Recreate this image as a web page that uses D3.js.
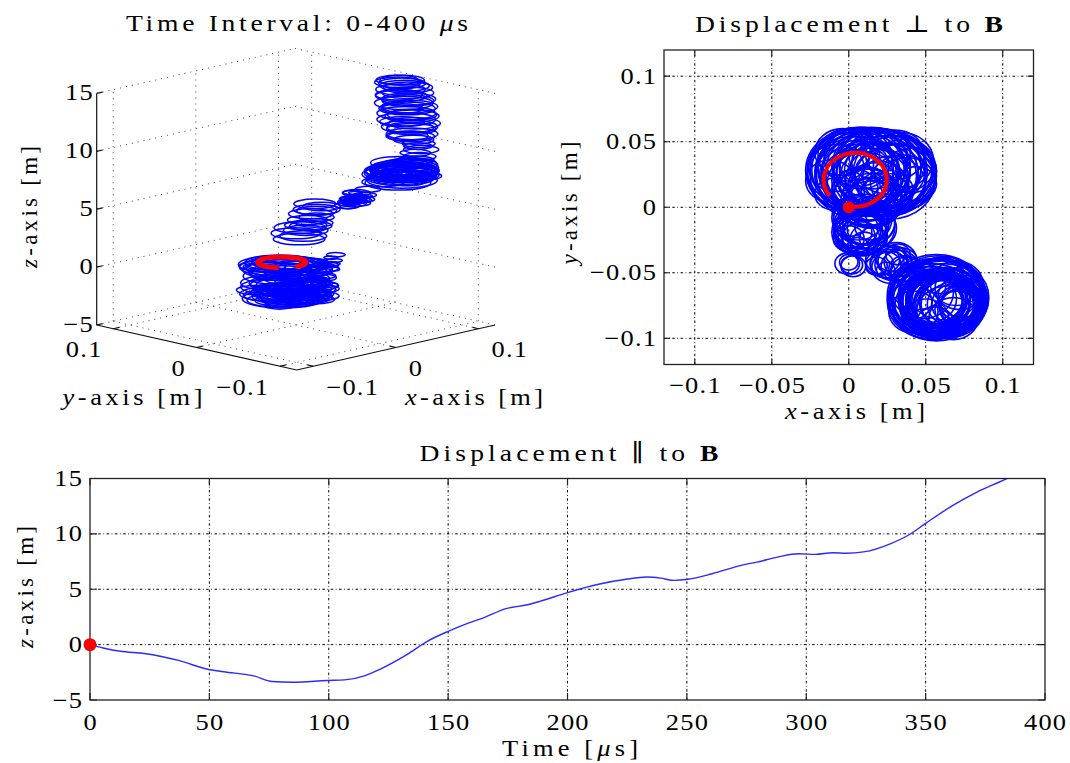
<!DOCTYPE html>
<html>
<head>
<meta charset="utf-8">
<script src="https://cdn.jsdelivr.net/npm/d3@7"></script>
<style>
  body { margin: 0; background: #fff; }
  text { font-family: "Liberation Serif", "DejaVu Serif", serif; fill: #000; }
</style>
</head>
<body>
<svg id="fig" width="1070" height="763"></svg>
<script>
// ---- data ----

// parallel displacement z(t)
const timeUs = [0, 5.5, 12.7, 22.8, 37.5, 48.8, 56, 69, 76.3, 85, 99.4, 106.6, 115.3, 121, 132.7, 141.3,
  150, 158.7, 164.5, 174.6, 183.2, 188.4, 200, 213, 224.5, 233.2, 239, 244.7, 250.5, 260.6, 273.6,
  279.4, 288, 296.7, 303.9, 311.1, 316.9, 324, 335.7, 342.9, 350, 361.6, 371.7, 384, 392, 400];
const zDisp = [0, -0.3, -0.6, -0.8, -1.45, -2.2, -2.45, -2.85, -3.33, -3.4, -3.24, -3.18, -2.8, -2.27, -0.9, 0.3,
  1.2, 1.97, 2.4, 3.27, 3.6, 3.9, 4.7, 5.45, 5.9, 6.1, 6.0, 5.8, 5.9, 6.4, 7.2,
  7.45, 7.9, 8.2, 8.15, 8.3, 8.25, 8.37, 9.15, 9.9, 10.95, 12.6, 13.8, 15.0, 15.9, 16.7];

// gyration orbits, grouped by stage: centre (x, y) [m], radius [m], height z [m]
const orbitX = [
  0.005, 0.008, 0.004, 0.012, 0.020, 0.006, 0.026, 0.002, 0.015, 0.030, 0.006, 0.018, 0.028, 0.010, 0.022, 0.003, 0.016, 0.033, 0.008, 0.024,
  0.012, 0.027, 0.001, 0.018, 0.035, 0.010, 0.024, 0.006, 0.030, 0.014, 0.020, 0.004, 0.028, 0.012, 0.022, 0.016, 0.038, 0.008, 0.026, 0.018,
  -0.008, 0.000, 0.020, 0.036, 0.044, 0.014, -0.012, 0.030, 0.004, 0.024, 0.040, -0.004, 0.016, 0.028, 0.010, 0.034, -0.010, 0.020, 0.006, 0.026,
  0.006, 0.008, 0.005, 0.010, 0.007, 0.004, 0.011, 0.008, 0.006, 0.009, 0.012, 0.003, -0.001, 0.002, 0.000, 0.003,
  0.002, 0.014, 0.010, 0.000, 0.016, 0.006,
  0.012, 0.015, 0.010, 0.016, 0.012, 0.014,
  0.008, 0.010, 0.006, 0.011, 0.009, 0.013, 0.010, 0.015, 0.012,
  0.022, 0.026, 0.030, 0.024, 0.033, 0.028, 0.020, 0.034, 0.027, 0.031, 0.025, 0.036, 0.029, 0.038,
  0.018, 0.040, 0.032, 0.024,
  0.055, 0.058, 0.060, 0.054, 0.062, 0.057, 0.059, 0.056, 0.061, 0.055, 0.058, 0.063, 0.057, 0.060, 0.054, 0.062, 0.058, 0.065, 0.067,
  0.045, 0.072, 0.050, 0.068, 0.040, 0.075, 0.060, 0.048, 0.070, 0.056, 0.064, 0.042, 0.052, 0.074, 0.062,
  0.070, 0.073, 0.071, 0.074, 0.072, 0.070, 0.068,
  0.066, 0.064, 0.067, 0.063, 0.066, 0.062, 0.065, 0.060, 0.064, 0.061, 0.058, 0.062, 0.057, 0.060, 0.055, 0.058, 0.054, 0.056,
  0.060, 0.066, 0.058, 0.064, 0.056, 0.062, 0.054, 0.060, 0.057, 0.052];
const orbitY = [
  0.024, 0.027, 0.028, 0.026, 0.024, 0.030, 0.026, 0.025, 0.029, 0.022, 0.023, 0.027, 0.028, 0.031, 0.021, 0.027, 0.024, 0.024, 0.029, 0.029,
  0.022, 0.020, 0.029, 0.031, 0.019, 0.025, 0.025, 0.028, 0.027, 0.020, 0.030, 0.022, 0.017, 0.028, 0.026, 0.018, 0.020, 0.032, 0.012, 0.024,
  0.030, 0.040, 0.040, 0.032, 0.018, 0.008, 0.020, 0.040, 0.014, 0.010, 0.028, 0.042, 0.036, 0.006, 0.018, 0.036, 0.010, 0.016, 0.038, 0.034,
  -0.018, -0.020, -0.016, -0.021, -0.019, -0.022, -0.018, -0.023, -0.017, -0.020, -0.024, -0.019, -0.043, -0.044, -0.042, -0.045,
  -0.012, -0.015, -0.028, -0.024, -0.024, -0.030,
  0.008, 0.006, 0.010, 0.004, 0.007, 0.002,
  -0.010, -0.012, -0.008, -0.014, -0.009, -0.012, -0.015, -0.016, -0.011,
  -0.040, -0.042, -0.041, -0.044, -0.045, -0.039, -0.043, -0.042, -0.046, -0.040, -0.043, -0.047, -0.044, -0.049,
  -0.045, -0.044, -0.036, -0.048,
  -0.068, -0.070, -0.066, -0.072, -0.071, -0.068, -0.074, -0.069, -0.070, -0.074, -0.067, -0.073, -0.071, -0.068, -0.070, -0.069, -0.075, -0.072, -0.074,
  -0.060, -0.062, -0.085, -0.085, -0.072, -0.074, -0.052, -0.065, -0.058, -0.088, -0.080, -0.080, -0.075, -0.068, -0.062,
  -0.074, -0.076, -0.073, -0.077, -0.075, -0.078, -0.074,
  -0.073, -0.076, -0.072, -0.074, -0.077, -0.071, -0.075, -0.073, -0.070, -0.076, -0.072, -0.074, -0.070, -0.075, -0.071, -0.073, -0.069, -0.072,
  -0.074, -0.072, -0.070, -0.076, -0.072, -0.073, -0.070, -0.075, -0.071, -0.070];
const orbitR = [
  0.024, 0.030, 0.032, 0.033, 0.030, 0.031, 0.029, 0.029, 0.032, 0.026, 0.028, 0.033, 0.027, 0.030, 0.028, 0.030, 0.034, 0.024, 0.032, 0.030,
  0.027, 0.029, 0.028, 0.029, 0.021, 0.035, 0.032, 0.026, 0.027, 0.025, 0.030, 0.022, 0.022, 0.020, 0.018, 0.016, 0.018, 0.018, 0.016, 0.026,
  0.018, 0.020, 0.020, 0.020, 0.013, 0.014, 0.016, 0.019, 0.015, 0.016, 0.017, 0.018, 0.022, 0.012, 0.024, 0.021, 0.012, 0.019, 0.022, 0.024,
  0.016, 0.017, 0.014, 0.015, 0.018, 0.013, 0.014, 0.012, 0.015, 0.016, 0.011, 0.012, 0.008, 0.007, 0.006, 0.008,
  0.010, 0.010, 0.009, 0.010, 0.009, 0.007,
  0.022, 0.020, 0.021, 0.019, 0.022, 0.018,
  0.018, 0.016, 0.017, 0.015, 0.019, 0.017, 0.020, 0.016, 0.018,
  0.011, 0.012, 0.011, 0.010, 0.012, 0.010, 0.009, 0.011, 0.012, 0.013, 0.011, 0.010, 0.012, 0.011,
  0.007, 0.006, 0.008, 0.006,
  0.028, 0.030, 0.027, 0.029, 0.028, 0.032, 0.026, 0.030, 0.029, 0.027, 0.030, 0.026, 0.031, 0.028, 0.025, 0.029, 0.025, 0.024, 0.020,
  0.018, 0.016, 0.015, 0.016, 0.014, 0.015, 0.014, 0.020, 0.017, 0.012, 0.020, 0.016, 0.022, 0.016, 0.024,
  0.016, 0.014, 0.013, 0.015, 0.012, 0.014, 0.017,
  0.020, 0.022, 0.021, 0.024, 0.022, 0.025, 0.023, 0.025, 0.024, 0.024, 0.025, 0.023, 0.022, 0.022, 0.021, 0.021, 0.020, 0.019,
  0.018, 0.020, 0.019, 0.021, 0.018, 0.022, 0.020, 0.021, 0.020, 0.018];
const orbitZ = [
  -0.1, -0.2, -0.3, -0.4, -0.5, -0.6, -0.65, -0.7, -0.8, -0.9, -1.0, -1.15, -1.3, -1.45, -1.65, -1.85, -2.05, -2.2, -2.3, -2.4,
  -2.5, -2.65, -2.8, -3.0, -3.2, -3.3, -3.35, -3.4, -3.4, -3.4, -3.35, -3.3, -3.25, -3.2, -3.2, -3.15, -3.1, -3.0, -2.9, -2.8,
  -0.35, -0.55, -0.75, -0.95, -1.2, -1.4, -1.6, -1.8, -2.0, -2.25, -2.45, -2.6, -2.75, -2.95, -3.1, -3.25, -3.35, -3.3, -3.15, -3.05,
  -2.6, -2.3, -2.0, -1.7, -1.4, -1.1, -0.8, -0.5, -0.2, 0.1, 0.4, 0.7, 1.0, 1.25, 1.5, 1.75,
  -2.45, -1.85, -1.25, -0.65, -0.05, 0.55,
  2.1, 2.35, 2.6, 2.85, 3.1, 3.35,
  3.6, 3.85, 4.1, 4.35, 4.6, 4.85, 5.05, 5.25, 5.45,
  5.6, 5.75, 5.9, 6.0, 6.05, 6.1, 6.0, 5.9, 5.85, 5.95, 6.15, 6.4, 6.65, 6.9,
  5.65, 6.2, 6.5, 6.8,
  7.5, 7.7, 7.85, 8.0, 8.1, 8.2, 8.25, 8.3, 8.35, 8.4, 8.45, 8.5, 8.55, 8.6, 8.65, 8.7, 8.8, 8.95, 9.1,
  7.6, 7.8, 7.95, 8.15, 8.25, 8.35, 8.45, 8.5, 8.55, 8.6, 8.65, 8.7, 8.75, 8.85, 9.0,
  9.3, 9.6, 9.9, 10.2, 10.5, 10.8, 11.1,
  11.4, 11.7, 12.0, 12.3, 12.6, 12.9, 13.2, 13.5, 13.8, 14.1, 14.4, 14.7, 15.0, 15.3, 15.6, 15.9, 16.2, 16.4,
  11.55, 12.15, 12.75, 13.35, 13.95, 14.55, 15.15, 15.75, 16.1, 16.45];

// first gyration (red): centre, radius, start/end angle [deg]
const firstOrbitCentre = [0.0042, 0.021];
const firstOrbitRadius = 0.0205;
const firstOrbitAngles = [-101, 217];

// ticks
const xyTicks = [-0.1, -0.05, 0, 0.05, 0.1];
const xyTickLabels = ["\u22120.1", "\u22120.05", "0", "0.05", "0.1"];
const xyTicks3D = [-0.1, 0, 0.1];
const xyTickLabels3D = ["\u22120.1", "0", "0.1"];
const zTicks = [-5, 0, 5, 10, 15];
const zTickLabels = ["\u22125", "0", "5", "10", "15"];
const timeTicks = [0, 50, 100, 150, 200, 250, 300, 350, 400];

// ---- helpers ----
const fig = d3.select("#fig");
const BLUE = "#0000ff", RED = "#ff0000";
const gridDash = "2.5,2.5,0.8,2.5";
const HS = 1.15; // the figure is stretched horizontally

function addText(parent, parts, o) {
  const hs = o.rotate ? 1 : HS;
  const ls = o.spacing || 0;
  const anchor = o.anchor || "middle";
  const t = parent.append("text")
    .attr("transform", `translate(${o.x},${o.y}) ` + (o.rotate ? `rotate(${o.rotate})` : `scale(${hs},1)`))
    .attr("x", anchor === "end" ? ls : anchor === "middle" ? ls / 2 : 0)
    .attr("text-anchor", anchor)
    .style("font-size", (o.size || 22) + "px");
  if (ls) t.style("letter-spacing", ls + "px");
  if (o.length) t.attr("textLength", o.length / hs).attr("lengthAdjust", "spacing");
  (typeof parts === "string" ? [[parts]] : parts).forEach(([s, st]) => {
    const ts = t.append("tspan").text(s);
    if (st === "i") ts.style("font-style", "italic");
    if (st === "b") ts.style("font-weight", "bold");
  });
  return t;
}
function tickText(parent, s, x, y, anchor) {
  return addText(parent, s, { x: x, y: y, anchor: anchor, spacing: 1.1, size: 23 });
}

const orbits = orbitX.map((x, i) => ({ x: x, y: orbitY[i], r: orbitR[i], z: orbitZ[i] }));
const rad = d => d * Math.PI / 180;

// =========================================================
// 1) 3-D view
// =========================================================
const g3 = fig.append("g");
const front = [296.7, 370];          // screen point of (xmin, ymin, zmin)
const EX = [198.3, -45];             // screen vector spanning the x range
const EY = [-200, -45];              // screen vector spanning the y range
const s3x = d3.scaleLinear().domain([-0.12, 0.12]).range([0, 1]);
const s3y = d3.scaleLinear().domain([-0.12, 0.12]).range([0, 1]);
const s3z = d3.scaleLinear().domain([-5, 15]).range([0, 231.6]);
function proj(x, y, z) {
  const u = s3x(x), v = s3y(y);
  return [front[0] + u * EX[0] + v * EY[0], front[1] + u * EX[1] + v * EY[1] - s3z(z)];
}
// matrix mapping a unit circle onto a horizontal circle of radius r at (x,y,z)
function orbitMatrix(x, y, z, r) {
  const k = s3x(r) - s3x(0);
  const c = proj(x, y, z);
  return `matrix(${EX[0] * k},${EX[1] * k},${EY[0] * k},${EY[1] * k},${c[0]},${c[1]})`;
}
const seg = (a, b) => `M${a[0]},${a[1]}L${b[0]},${b[1]}`;

const grid3 = [];
xyTicks3D.forEach(t => {
  grid3.push(seg(proj(t, -0.12, -5), proj(t, 0.12, -5)));   // floor
  grid3.push(seg(proj(-0.12, t, -5), proj(0.12, t, -5)));
  grid3.push(seg(proj(t, 0.12, -5), proj(t, 0.12, 15)));    // back walls
  grid3.push(seg(proj(0.12, t, -5), proj(0.12, t, 15)));
});
zTicks.forEach(z => {
  grid3.push(seg(proj(-0.12, 0.12, z), proj(0.12, 0.12, z)));
  grid3.push(seg(proj(0.12, 0.12, z), proj(0.12, -0.12, z)));
});
g3.append("path").attr("d", grid3.join(""))
  .attr("fill", "none").attr("stroke", "#444").attr("stroke-width", 1)
  .attr("stroke-dasharray", "1,5");

g3.append("path")
  .attr("d", seg(proj(-0.12, 0.12, -5), proj(-0.12, 0.12, 15)) +
             seg(proj(-0.12, -0.12, -5), proj(-0.12, 0.12, -5)) +
             seg(proj(-0.12, -0.12, -5), proj(0.12, -0.12, -5)))
  .attr("fill", "none").attr("stroke", "#111").attr("stroke-width", 1.2);

const ticks3 = [];
const nEX = [EX[0] / Math.hypot(...EX) * 6, EX[1] / Math.hypot(...EX) * 6];
const nEY = [EY[0] / Math.hypot(...EY) * 6, EY[1] / Math.hypot(...EY) * 6];
zTicks.forEach(z => { const p = proj(-0.12, 0.12, z); ticks3.push(seg(p, [p[0] + nEX[0], p[1] + nEX[1]])); });
xyTicks3D.forEach(t => {
  const p = proj(-0.12, t, -5); ticks3.push(seg(p, [p[0] + nEX[0], p[1] + nEX[1]]));
  const q = proj(t, -0.12, -5); ticks3.push(seg(q, [q[0] + nEY[0], q[1] + nEY[1]]));
});
g3.append("path").attr("d", ticks3.join("")).attr("stroke", "#111").attr("stroke-width", 1.2);

zTicks.forEach((z, i) => {
  const p = proj(-0.12, 0.12, z);
  tickText(g3, zTickLabels[i], p[0] - 4, p[1] + 7, "end");
});
xyTicks3D.forEach((t, i) => {
  const p = proj(-0.12, t, -5);
  tickText(g3, xyTickLabels3D[i], p[0] - 12, p[1] + 28.5, "end");
  const q = proj(t, -0.12, -5);
  tickText(g3, xyTickLabels3D[i], q[0] + 13, q[1] + 28.5, "start");
});

g3.append("g").selectAll("circle").data(orbits).join("circle")
  .attr("r", 1)
  .attr("transform", d => orbitMatrix(d.x, d.y, d.z, d.r))
  .attr("fill", "none").attr("stroke", BLUE).attr("stroke-width", 1.5)
  .attr("vector-effect", "non-scaling-stroke");

const arcPath = d3.path();
arcPath.arc(0, 0, 1, rad(firstOrbitAngles[0]), rad(firstOrbitAngles[1]));
g3.append("path").attr("d", arcPath.toString())
  .attr("transform", orbitMatrix(firstOrbitCentre[0], firstOrbitCentre[1], 0, firstOrbitRadius))
  .attr("fill", "none").attr("stroke", RED).attr("stroke-width", 5)
  .attr("vector-effect", "non-scaling-stroke");

addText(g3, [["Time Interval: 0-400 "], ["\u03bc", "i"], ["s"]], { x: 297, y: 31, size: 24, length: 342 });
addText(g3, [["z", "i"], ["-axis [m]"]], { x: 37, y: 207, size: 23, rotate: -90, length: 122 });
addText(g3, [["y", "i"], ["-axis [m]"]], { x: 132.5, y: 405, size: 23, length: 140 });
addText(g3, [["x", "i"], ["-axis [m]"]], { x: 474, y: 405, size: 23, length: 138 });

// =========================================================
// 2) displacement perpendicular to B
// =========================================================
const g2 = fig.append("g");
const x2 = d3.scaleLinear().domain([-0.12, 0.12]).range([664, 1033.5]);
const y2 = d3.scaleLinear().domain([-0.12, 0.12]).range([364.5, 50]);

g2.append("g").selectAll("line").data(xyTicks).join("line")
  .attr("x1", d => x2(d)).attr("x2", d => x2(d)).attr("y1", y2(-0.12)).attr("y2", y2(0.12))
  .attr("stroke", "#000").attr("stroke-width", 1).attr("stroke-dasharray", gridDash);
g2.append("g").selectAll("line").data(xyTicks).join("line")
  .attr("y1", d => y2(d)).attr("y2", d => y2(d)).attr("x1", x2(-0.12)).attr("x2", x2(0.12))
  .attr("stroke", "#000").attr("stroke-width", 1).attr("stroke-dasharray", gridDash);

g2.append("g").selectAll("ellipse").data(orbits).join("ellipse")
  .attr("cx", d => x2(d.x)).attr("cy", d => y2(d.y))
  .attr("rx", d => x2(d.r) - x2(0)).attr("ry", d => y2(0) - y2(d.r))
  .attr("fill", "none").attr("stroke", BLUE).attr("stroke-width", 1.6);

const kx2 = x2(firstOrbitRadius) - x2(0), ky2 = y2(0) - y2(firstOrbitRadius);
g2.append("path").attr("d", arcPath.toString())
  .attr("transform", `matrix(${kx2},0,0,${-ky2},${x2(firstOrbitCentre[0])},${y2(firstOrbitCentre[1])})`)
  .attr("fill", "none").attr("stroke", RED).attr("stroke-width", 4)
  .attr("vector-effect", "non-scaling-stroke");
g2.append("circle").attr("cx", x2(0)).attr("cy", y2(0)).attr("r", 6).attr("fill", RED);

g2.append("rect").attr("x", x2(-0.12)).attr("y", y2(0.12))
  .attr("width", x2(0.12) - x2(-0.12)).attr("height", y2(-0.12) - y2(0.12))
  .attr("fill", "none").attr("stroke", "#222").attr("stroke-width", 1.3);
const t2 = [];
xyTicks.forEach(t => {
  t2.push(`M${x2(t)},${y2(-0.12)}v-6M${x2(t)},${y2(0.12)}v6`);
  t2.push(`M${x2(-0.12)},${y2(t)}h6M${x2(0.12)},${y2(t)}h-6`);
});
g2.append("path").attr("d", t2.join("")).attr("stroke", "#222").attr("stroke-width", 1.2);
xyTicks.forEach((t, i) => {
  tickText(g2, xyTickLabels[i], x2(t), 393, "middle");
  tickText(g2, xyTickLabels[i], x2(-0.12) - 8, y2(t) + 7.5, "end");
});
addText(g2, [["Displacement \u22a5 to "], ["B", "b"]], { x: 849, y: 31.5, size: 24, length: 308 });
addText(g2, [["x", "i"], ["-axis [m]"]], { x: 855, y: 419, size: 23, length: 140 });
addText(g2, [["y", "i"], ["-axis [m]"]], { x: 577, y: 203, size: 23, rotate: -90, length: 123 });

// =========================================================
// 3) displacement parallel to B
// =========================================================
const g1 = fig.append("g");
const xt = d3.scaleLinear().domain([0, 400]).range([90, 1045]);
const zt = d3.scaleLinear().domain([-5, 15]).range([700, 478.5]);

g1.append("g").selectAll("line").data(timeTicks.slice(1, -1)).join("line")
  .attr("x1", d => xt(d)).attr("x2", d => xt(d)).attr("y1", zt(-5)).attr("y2", zt(15))
  .attr("stroke", "#000").attr("stroke-width", 1).attr("stroke-dasharray", gridDash);
g1.append("g").selectAll("line").data(zTicks.slice(1, -1)).join("line")
  .attr("y1", d => zt(d)).attr("y2", d => zt(d)).attr("x1", xt(0)).attr("x2", xt(400))
  .attr("stroke", "#000").attr("stroke-width", 1).attr("stroke-dasharray", gridDash);

fig.append("defs").append("clipPath").attr("id", "clipZ").append("rect")
  .attr("x", xt(0)).attr("y", zt(15)).attr("width", xt(400) - xt(0)).attr("height", zt(-5) - zt(15));
const zSeries = timeUs.map((t, i) => ({ t: t, z: zDisp[i] }));
g1.append("path").datum(zSeries)
  .attr("clip-path", "url(#clipZ)")
  .attr("d", d3.line().x(d => xt(d.t)).y(d => zt(d.z)).curve(d3.curveMonotoneX))
  .attr("fill", "none").attr("stroke", "#2a2aff").attr("stroke-width", 1.4);

g1.append("rect").attr("x", xt(0)).attr("y", zt(15))
  .attr("width", xt(400) - xt(0)).attr("height", zt(-5) - zt(15))
  .attr("fill", "none").attr("stroke", "#222").attr("stroke-width", 1.3);
const t1 = [];
timeTicks.forEach(t => t1.push(`M${xt(t)},${zt(-5)}v-7M${xt(t)},${zt(15)}v7`));
zTicks.forEach(z => t1.push(`M${xt(0)},${zt(z)}h7M${xt(400)},${zt(z)}h-7`));
g1.append("path").attr("d", t1.join("")).attr("stroke", "#222").attr("stroke-width", 1.2);

g1.append("circle").attr("cx", xt(timeUs[0])).attr("cy", zt(zDisp[0])).attr("r", 6.5).attr("fill", RED);

timeTicks.forEach(t => tickText(g1, String(t), xt(t), 729.5, "middle"));
zTicks.forEach((z, i) => tickText(g1, zTickLabels[i], 82, zt(z) + 7.5, "end"));
addText(g1, [["Displacement \u2225 to "], ["B", "b"]], { x: 569, y: 461, size: 24, length: 299 });
addText(g1, [["Time ["], ["\u03bc", "i"], ["s]"]], { x: 570, y: 756, size: 23, length: 136 });
addText(g1, [["z", "i"], ["-axis [m]"]], { x: 33, y: 587, size: 23, rotate: -90, length: 122 });
</script>
</body>
</html>
